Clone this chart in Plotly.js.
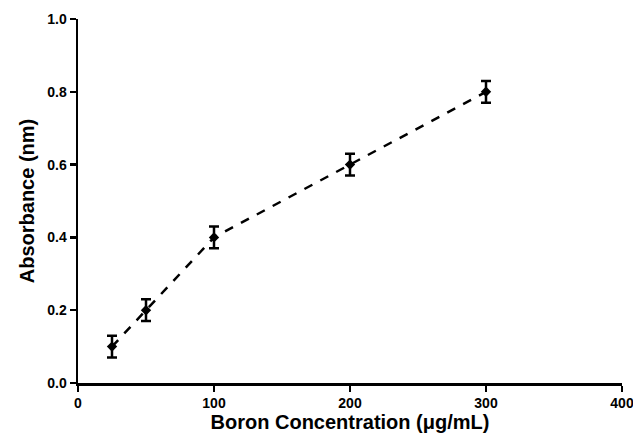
<!DOCTYPE html>
<html>
<head>
<meta charset="utf-8">
<script src="https://cdn.plot.ly/plotly-3.0.1.min.js"></script>
<style>html,body{margin:0;padding:0;background:#fff;}#chart{width:633px;height:442px;}</style>
</head>
<body>
<div id="chart"></div>
<script>
const concentration = [25, 50, 100, 200, 300];
const absorbance = [0.10, 0.20, 0.40, 0.60, 0.80];
const errorVals = [0.03, 0.03, 0.03, 0.03, 0.03];
const xTicks = [0, 100, 200, 300, 400];
const yTicks = [0.0, 0.2, 0.4, 0.6, 0.8, 1.0];
const yTickText = ['0.0', '0.2', '0.4', '0.6', '0.8', '1.0'];

const fontFam = '"Liberation Sans", Arial, sans-serif';

Plotly.newPlot('chart', [{
  x: concentration,
  y: absorbance,
  type: 'scatter',
  mode: 'lines+markers',
  line: {color: '#000', width: 2.5, dash: 'dash'},
  marker: {color: '#000', size: 8, symbol: 'diamond'},
  error_y: {type: 'data', array: errorVals, visible: true, color: '#000', thickness: 2.5, width: 5},
  cliponaxis: false,
  showlegend: false
}], {
  width: 633, height: 442,
  margin: {l: 78, r: 11, t: 19, b: 59},
  paper_bgcolor: '#fff', plot_bgcolor: '#fff',
  font: {family: fontFam, color: '#000'},
  xaxis: {
    range: [0, 400], tickvals: xTicks, ticks: 'outside', ticklen: 6, tickwidth: 2.5, tickcolor: '#000',
    showline: true, linewidth: 2.5, linecolor: '#000', showgrid: false, zeroline: false,
    ticklabeloverflow: 'allow',
    tickfont: {size: 14, weight: 700, family: fontFam},
    title: {text: 'Boron Concentration (μg/mL)', font: {size: 20, weight: 700, family: fontFam}, standoff: 5}
  },
  yaxis: {
    range: [0, 1.0], tickvals: yTicks, ticktext: yTickText, ticks: 'outside', ticklen: 6, tickwidth: 2.5, tickcolor: '#000',
    showline: true, linewidth: 2.5, linecolor: '#000', showgrid: false, zeroline: false,
    ticklabeloverflow: 'allow',
    tickfont: {size: 14, weight: 700, family: fontFam},
    title: {text: 'Absorbance (nm)', font: {size: 20, weight: 700, family: fontFam}, standoff: 7}
  }
}, {displayModeBar: false, staticPlot: true});
</script>
</body>
</html>
